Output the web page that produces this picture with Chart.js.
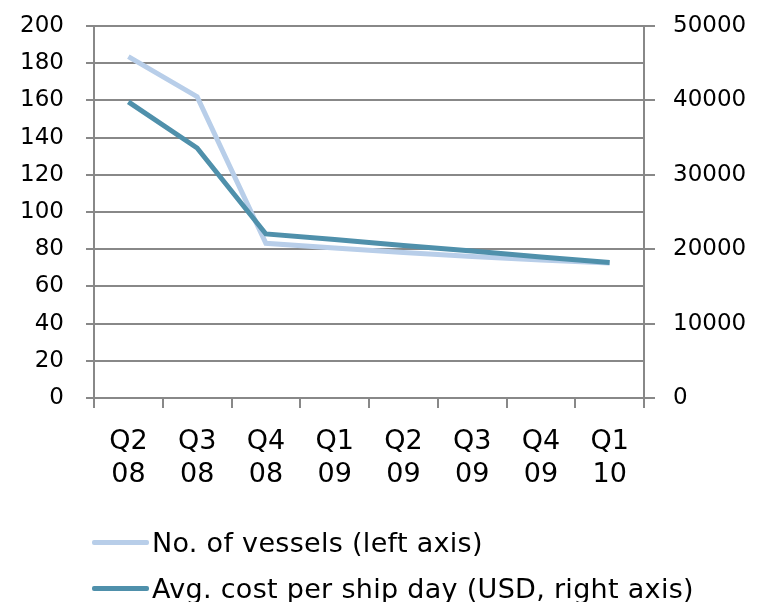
<!DOCTYPE html>
<html>
<head>
<meta charset="utf-8">
<script src="https://cdn.jsdelivr.net/npm/chart.js@4/dist/chart.umd.min.js"></script>
<style>
  html, body { margin: 0; padding: 0; background: #ffffff; }
  #wrap { position: relative; width: 757px; height: 602px; }
  #chart { position: absolute; left: 0; top: 0; }
  .legend-item {
    position: absolute; left: 92px; height: 30px;
    display: flex; align-items: center;
    font-family: "DejaVu Sans", Verdana, sans-serif; font-size: 27px; color: #000;
    letter-spacing: 0.3px; white-space: nowrap;
  }
  .legend-swatch { width: 57px; height: 5px; border-radius: 2px; margin-right: 3px; }
</style>
</head>
<body>
<div id="wrap">
  <canvas id="chart" width="757" height="602"></canvas>
  <div id="legend"></div>
</div>
<script>
// Quarter labels (two lines each)
const quarters = [
  ["Q2", "08"], ["Q3", "08"], ["Q4", "08"], ["Q1", "09"],
  ["Q2", "09"], ["Q3", "09"], ["Q4", "09"], ["Q1", "10"]
];

// Number of vessels (left axis)
const vessels = [183.5, 162, 83.2, 80.6, 78.2, 76.1, 74.2, 72.6];

// Average cost per ship day in USD (right axis)
const costPerDay = [39800, 33600, 22050, 21300, 20500, 19750, 18950, 18200];

// Axis ranges and tick steps
const leftAxisRange = [0, 200, 20];
const rightAxisRange = [0, 50000, 10000];

const seriesLabels = ["No. of vessels (left axis)", "Avg. cost per ship day (USD, right axis)"];
const seriesColors = ["#b8cee9", "#4f90ab"];

const GRID = "#888888";
const FONT = "'DejaVu Sans', Verdana, sans-serif";

// Keep the vertical axes from reserving extra room above/below the plot
function trimVerticalPadding(scale) {
  scale.paddingTop = 12;
  scale.paddingBottom = 12;
}

const chart = new Chart(document.getElementById("chart"), {
  type: "line",
  data: {
    labels: quarters,
    datasets: [
      {
        label: seriesLabels[0],
        data: vessels,
        yAxisID: "y",
        borderColor: seriesColors[0],
        backgroundColor: seriesColors[0],
        borderWidth: 5,
        pointRadius: 0,
        tension: 0,
        order: 2
      },
      {
        label: seriesLabels[1],
        data: costPerDay,
        yAxisID: "y1",
        borderColor: seriesColors[1],
        backgroundColor: seriesColors[1],
        borderWidth: 5,
        pointRadius: 0,
        tension: 0,
        order: 1
      }
    ]
  },
  options: {
    responsive: false,
    animation: false,
    devicePixelRatio: 1,
    layout: { padding: { top: 26, left: 0, right: 0, bottom: 0 } },
    plugins: { legend: { display: false }, tooltip: { enabled: false } },
    scales: {
      x: {
        type: "category",
        offset: true,
        grid: { offset: true, drawOnChartArea: false, color: GRID, lineWidth: 2, tickLength: 10 },
        border: { color: GRID, width: 2 },
        ticks: {
          color: "#000", autoSkip: false, maxRotation: 0, padding: 18,
          font: { family: FONT, size: 27, lineHeight: 1.2 }
        },
        afterFit(scale) { scale.height = 602 - 398; }
      },
      y: {
        position: "left",
        min: leftAxisRange[0], max: leftAxisRange[1],
        grid: { color: GRID, lineWidth: 2, tickLength: 8 },
        border: { color: GRID, width: 2 },
        ticks: {
          stepSize: leftAxisRange[2], color: "#000", padding: 22,
          font: { family: FONT, size: 23 }
        },
        afterFit(scale) { scale.width = 94; trimVerticalPadding(scale); }
      },
      y1: {
        position: "right",
        min: rightAxisRange[0], max: rightAxisRange[1],
        grid: { drawOnChartArea: false, color: GRID, lineWidth: 2, tickLength: 11 },
        border: { color: GRID, width: 2 },
        ticks: {
          stepSize: rightAxisRange[2], color: "#000", padding: 18,
          font: { family: FONT, size: 23 },
          callback: (v) => String(v)
        },
        afterFit(scale) { scale.width = 757 - 644; trimVerticalPadding(scale); }
      }
    }
  }
});

// Legend below the plot, one series per row
const legend = document.getElementById("legend");
const legendRows = [527, 573];
chart.data.datasets.forEach((ds, i) => {
  const item = document.createElement("div");
  item.className = "legend-item";
  item.style.top = legendRows[i] + "px";
  const sw = document.createElement("span");
  sw.className = "legend-swatch";
  sw.style.background = ds.borderColor;
  const tx = document.createElement("span");
  tx.textContent = ds.label;
  item.appendChild(sw);
  item.appendChild(tx);
  legend.appendChild(item);
});
</script>
</body>
</html>
